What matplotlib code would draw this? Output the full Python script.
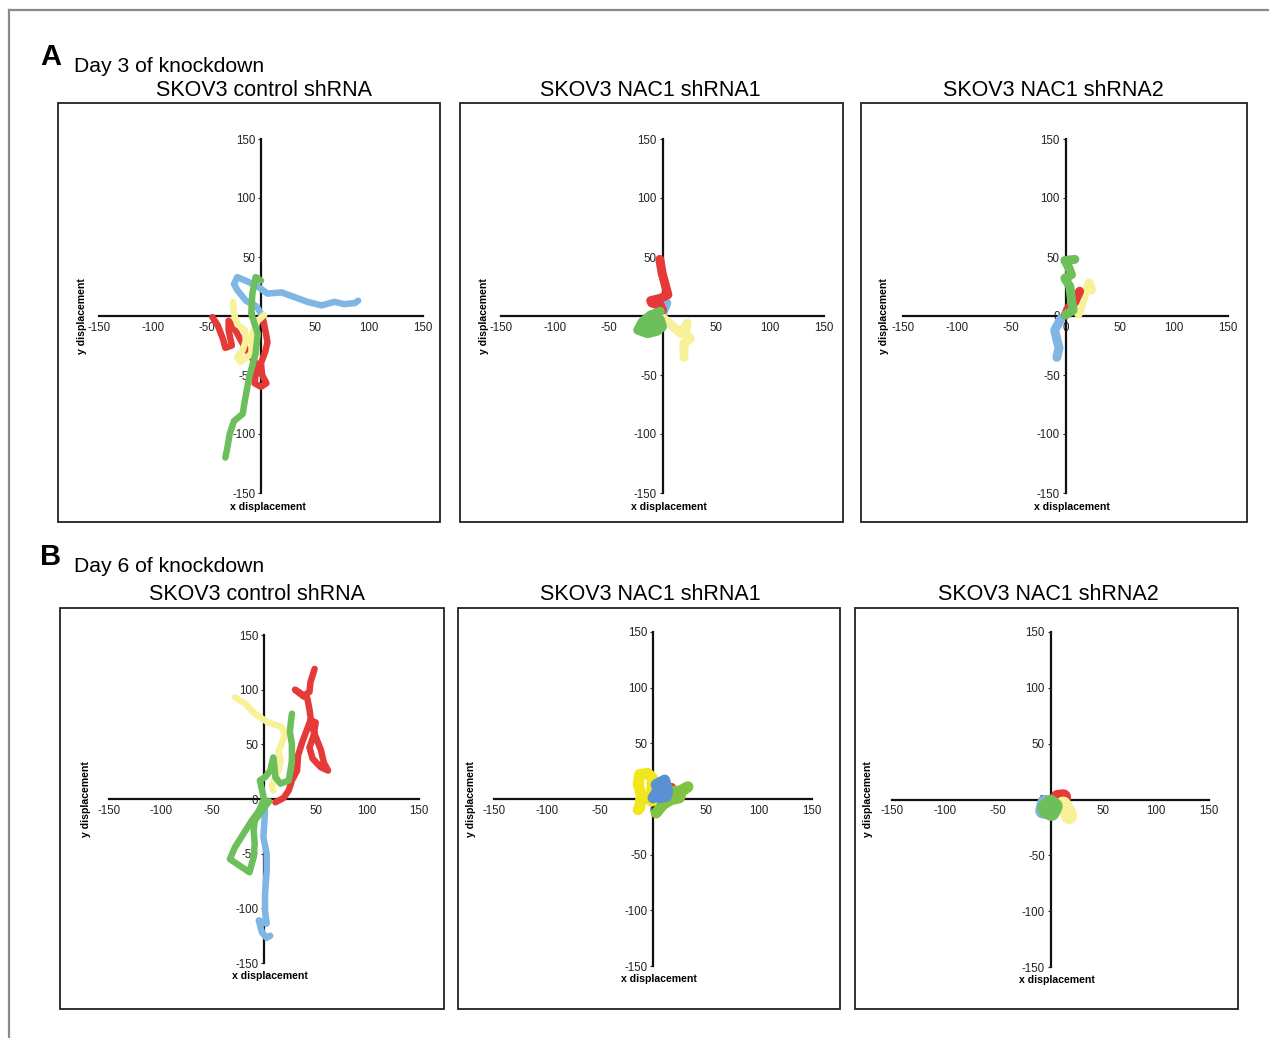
import matplotlib
matplotlib.use("Agg")
import matplotlib.pyplot as plt
from matplotlib.patches import Rectangle
from matplotlib.lines import Line2D

W, H = 1269, 1038
plt.rcParams["font.family"] = ["Liberation Sans", "DejaVu Sans"]

TICKS = [-150, -100, -50, 0, 50, 100, 150]
TITLES = ["SKOV3 control shRNA", "SKOV3 NAC1 shRNA1", "SKOV3 NAC1 shRNA2"]

BLUE = "#7fb6e4"
GREEN = "#6cbf5b"
RED = "#e63a38"
YELLOW = "#f7f19a"

# Day 3 tracks (x, y displacement)
a1_blue = [(0, 2), (-4, 8), (-14, 13), (-22, 22), (-25, 27), (-22, 33), (-12, 29), (-3, 25),
           (6, 19), (19, 20), (31, 16), (43, 12), (56, 9), (68, 12), (77, 10), (87, 11), (90, 13)]
a1_green = [(-33, -120), (-31, -111), (-29, -100), (-25, -89), (-17, -83), (-15, -72), (-11, -52),
            (-5, -32), (-3, -15), (-9, 2), (-8, 19), (-5, 33), (0, 30)]
a1_red = [(-45, -1), (-40, -8), (-35, -20), (-33, -27), (-27, -25), (-30, -12), (-30, -4), (-25, -10),
          (-19, -20), (-14, -28), (-8, -36), (-3, -42), (-5, -50), (-6, -57), (0, -60), (5, -57),
          (1, -50), (0, -40), (4, -30), (6, -22), (4, -12), (2, -3)]
a1_yellow = [(3, 1), (-3, -4), (-8, -15), (-9, -32), (-19, -39), (-22, -35), (-17, -29), (-14, -21),
             (-15, -12), (-22, -7), (-25, 2), (-26, 12)]

a2_red = [(0, 5), (-2, 9), (-10, 11), (-11, 13), (-2, 15), (5, 18), (3, 25), (-0.3, 36), (-2.5, 48)]
a2_blue = [(0, 2), (4, 11)]
a2_green = [(-2, 4), (-11, 1), (-19, -5), (-23, -12), (-14, -15), (-5, -13), (0, -9), (-2, -3),
            (-11, -8), (-16, -10)]
a2_yellow = [(1, -2), (10, -9), (17, -15), (23, -6), (21, -15), (26, -19), (20, -23), (20, -35)]

a3_blue = [(-4, -2), (-10, -12), (-8, -20), (-6, -27), (-8, -35)]
a3_green = [(0, 1), (7, 5), (5.5, 14), (4, 25), (-0.6, 32), (5.5, 35), (2.5, 42), (-0.6, 47), (8.6, 48)]
a3_red = [(0, 1), (2.5, 6.5), (8.6, 12), (13, 21)]
a3_yellow = [(12, 2), (15, 11), (18, 19), (22, 28), (24, 22)]

# Day 6 tracks
b1_red = [(11, -3), (19, 1), (24, 8), (27, 17), (32, 26), (33, 40), (37, 52), (41, 62), (45, 72),
          (50, 70), (48, 58), (44, 47), (47, 37), (55, 29), (62, 26), (58, 33), (55, 45), (50, 57),
          (46, 68), (44, 82), (42, 92), (35, 97), (30, 100), (38, 94), (44, 98), (45, 107), (49, 119)]
b1_green = [(5, -2), (-2, -11), (-9, -20), (-10, -29), (-9, -41), (-10, -53), (-14, -67), (-22, -62),
            (-33, -55), (-28, -44), (-18, -29), (-12, -20), (-5, -11), (0, 0), (-4, 17), (1, 20),
            (6, 26), (9, 38), (10, 30), (11, 20), (16, 14), (24, 17), (27, 35), (27, 50), (25, 62),
            (27, 78)]
b1_yellow = [(-28, 93), (-18, 87), (-9, 78), (4, 70), (17, 66), (20, 59), (17, 50), (14, 44),
             (16, 35), (14, 26), (11, 20), (7.5, 12), (9, 7.6)]
b1_blue = [(1, -11), (-0.6, -35), (2.6, -50), (2.6, -66), (1, -87), (1, -102), (2.6, -114),
           (-5, -111), (-2, -122), (2.6, -127), (6, -125)]

b2_yellow = [(-1.6, -2), (-0.6, 19), (-5, 23), (-12.6, 22), (-14, 13), (-11, 4), (-12.6, -8), (-14, -9.6)]
b2_green = [(3, -12.6), (9.4, -5), (17, -0.6), (25, 1), (27, 7), (33, 11), (25, 7), (16, 7), (8, 0)]
b2_blue = [(0, 1), (5, 8), (3, 13), (11, 17), (14, 7), (12.6, 2.4), (6, 1)]
b2_red = [(-3, 4), (17, 10.5)]

b3_green = [(-5, -7.5), (0, -3), (4, -6), (1, -12), (-4, -10), (0, -7)]
b3_red = [(7, 1.5), (12, 2)]
b3_yellow = [(12, -4.5), (17, -12), (17.6, -15)]
b3_blue = [(-5, -3), (-7, -10)]


def fx(px):
    return px / W


def fy(py):
    return 1 - py / H


fig = plt.figure(figsize=(W / 100, H / 100), dpi=100)

# outer frame (top and left edges)
fig.add_artist(Line2D([fx(9), 1], [fy(10), fy(10)], color="#8a8a8a", lw=1.6))
fig.add_artist(Line2D([fx(9), fx(9)], [fy(10), 0], color="#8a8a8a", lw=1.6))

panels = [
    # box (l, t, r, b) and axes (l, t, r, b) in pixels, ylabel offset, trace width in px
    dict(box=(58, 103, 440, 522), ax=(99, 139, 423, 493), yl=-0.052, lw=6.5,
         tracks=[(a1_blue, BLUE), (a1_red, RED), (a1_yellow, YELLOW), (a1_green, GREEN)],
         tx=264, ty=90, title=TITLES[0]),
    dict(box=(460, 103, 843, 522), ax=(501, 139, 824, 493), yl=-0.053, lw=9,
         tracks=[(a2_blue, BLUE), (a2_red, RED), (a2_yellow, YELLOW), (a2_green, GREEN)],
         tx=650, ty=90, title=TITLES[1]),
    dict(box=(861, 103, 1247, 522), ax=(903, 139, 1228, 493), yl=-0.058, lw=9,
         tracks=[(a3_blue, BLUE), (a3_yellow, YELLOW), (a3_red, RED), (a3_green, GREEN)],
         tx=1053, ty=90, title=TITLES[2]),
    dict(box=(60, 608, 444, 1009), ax=(109, 635, 419, 963), yl=-0.074, lw=6.5,
         tracks=[(b1_yellow, YELLOW), (b1_blue, BLUE), (b1_red, RED), (b1_green, GREEN)],
         tx=257, ty=595, title=TITLES[0]),
    dict(box=(458, 608, 840, 1009), ax=(494, 632, 812, 966), yl=-0.072, lw=11,
         tracks=[(b2_red, "#e8302a"), (b2_yellow, "#f2e61c"), (b2_green, "#80c241"), (b2_blue, "#5a91d2")],
         tx=650, ty=595, title=TITLES[1]),
    dict(box=(855, 608, 1238, 1009), ax=(892, 632, 1209, 967), yl=-0.076, lw=16,
         tracks=[(b3_blue, BLUE), (b3_red, RED), (b3_yellow, YELLOW), (b3_green, GREEN)],
         tx=1048, ty=595, title=TITLES[2]),
]

for p in panels:
    bl, bt, br, bb = p["box"]
    fig.add_artist(Rectangle((fx(bl), fy(bb)), fx(br - bl), (bb - bt) / H,
                             transform=fig.transFigure, fill=False, ec="#222222", lw=1.3))
    fig.text(fx(p["tx"]), fy(p["ty"]), p["title"], ha="center", va="center", fontsize=15.5)

    al, at, ar, ab = p["ax"]
    ax = fig.add_axes([fx(al), fy(ab), fx(ar - al), (ab - at) / H])
    ax.patch.set_alpha(0)
    ax.set_xlim(-150, 150)
    ax.set_ylim(-150, 150)
    for side in ["top", "right"]:
        ax.spines[side].set_visible(False)
    for side in ["left", "bottom"]:
        ax.spines[side].set_position(("data", 0))
        ax.spines[side].set_linewidth(1.6)
        ax.spines[side].set_color("#111111")
        ax.spines[side].set_zorder(2)
    ax.set_xticks(TICKS)
    ax.set_yticks(TICKS)
    ax.set_xticklabels([str(t) for t in TICKS])
    ax.set_yticklabels([str(t) for t in TICKS])
    ax.tick_params(axis="x", length=0, pad=4, labelsize=8.3, colors="#222222")
    ax.tick_params(axis="y", length=2.5, width=0.8, direction="out", pad=1.5, labelsize=8.3, colors="#222222")

    for track, color in p["tracks"]:
        xs = [pt[0] for pt in track]
        ys = [pt[1] for pt in track]
        if track is b2_red:
            ax.plot(xs, ys, "o", color=color, ms=p["lw"] * 0.5, zorder=3)
        else:
            ax.plot(xs, ys, color=color, lw=p["lw"] * 0.72, solid_capstyle="round",
                    solid_joinstyle="round", zorder=3)

    ax.text(0.52, -0.04, "x displacement", transform=ax.transAxes, ha="center", va="center",
            fontsize=7.6, fontweight="bold")
    ax.text(p["yl"], 0.5, "y displacement", transform=ax.transAxes, ha="center", va="center",
            rotation=90, fontsize=7.6, fontweight="bold")

fig.text(fx(51), fy(57), "A", ha="center", va="center", fontsize=21, fontweight="bold")
fig.text(fx(74), fy(66), "Day 3 of knockdown", ha="left", va="center", fontsize=15.2)
fig.text(fx(51), fy(557), "B", ha="center", va="center", fontsize=21, fontweight="bold")
fig.text(fx(74), fy(566), "Day 6 of knockdown", ha="left", va="center", fontsize=15.2)

fig.savefig("out.png", dpi=100)
print("Saved out.png")
